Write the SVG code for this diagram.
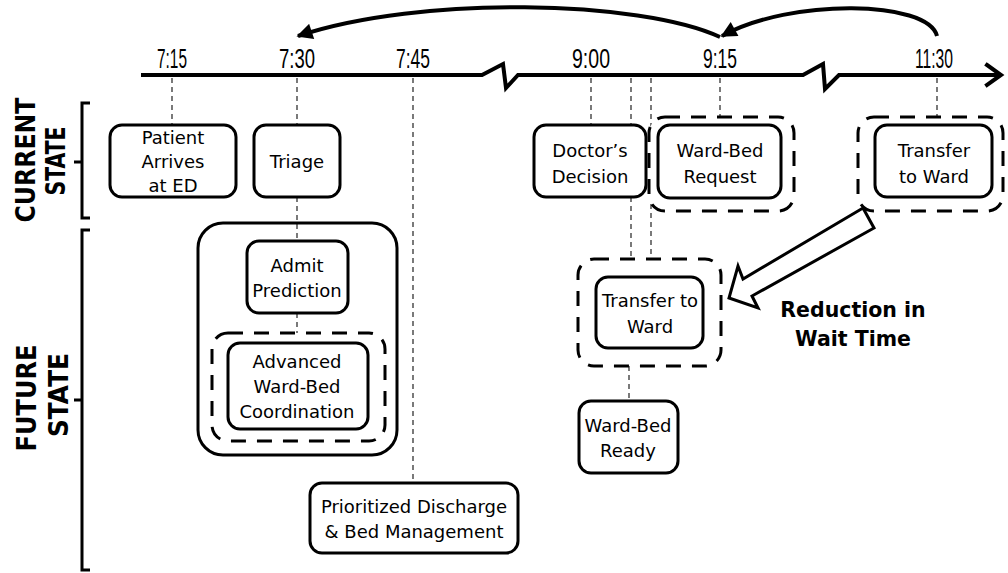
<svg xmlns="http://www.w3.org/2000/svg" width="1008" height="573" viewBox="0 0 1008 573">
<style>
.node rect{fill:#fff;stroke:#000;stroke-width:3}
.node rect.grp{fill:none}
.dbox{fill:none;stroke:#000;stroke-width:4.5;stroke-dasharray:15 11}
.t{font-family:"DejaVu Sans",Verdana,sans-serif;font-size:18px;fill:#000;text-anchor:middle}
.tick{font-family:"Liberation Sans",Arial,sans-serif;font-size:27px;fill:#000;text-anchor:middle}
.side{font-family:"DejaVu Sans",Verdana,sans-serif;font-weight:bold;font-size:26px;fill:#000;text-anchor:middle}
.guide{fill:none;stroke:#333;stroke-width:1.3;stroke-dasharray:5 4}
.axis{fill:none;stroke:#000;stroke-width:4;stroke-linejoin:miter}
.brk{fill:none;stroke:#000;stroke-width:3}
.curve{fill:none;stroke:#000;stroke-width:4}
</style>
<defs>
<marker id="ah" viewBox="0 0 10 10" refX="9" refY="5" markerWidth="4.5" markerHeight="4" orient="auto" markerUnits="strokeWidth">
<path d="M0,0 L10,5 L0,10 Z" fill="#000"/>
</marker>
</defs>

<!-- timeline axis -->
<g id="axis">
<path class="axis" d="M141,75 H482 L503,64 L506,88 L518,75 H803 L823,64 L825,89 L839,75 H1001"/>
<path class="axis" d="M987,65 L1001,75 L987,85" stroke-linecap="square"/>
<text class="tick" x="172" y="68" textLength="30" lengthAdjust="spacingAndGlyphs">7:15</text>
<text class="tick" x="297" y="68" textLength="36" lengthAdjust="spacingAndGlyphs">7:30</text>
<text class="tick" x="413" y="68" textLength="34" lengthAdjust="spacingAndGlyphs">7:45</text>
<text class="tick" x="591" y="68" textLength="38" lengthAdjust="spacingAndGlyphs">9:00</text>
<text class="tick" x="720" y="68" textLength="34" lengthAdjust="spacingAndGlyphs">9:15</text>
<text class="tick" x="934" y="68" textLength="38" lengthAdjust="spacingAndGlyphs">11:30</text>
</g>

<!-- side labels and brackets -->
<g id="current-state-label">
<path class="brk" d="M90,103 H82 V218 H90 M82,162 H74"/>
<text class="side" transform="translate(35,160) rotate(-90)" textLength="125" lengthAdjust="spacingAndGlyphs">CURRENT</text>
<text class="side" transform="translate(65,161) rotate(-90)" textLength="69" lengthAdjust="spacingAndGlyphs">STATE</text>
</g>
<g id="future-state-label">
<path class="brk" d="M90,230 H82 V570 H90 M82,400 H74"/>
<text class="side" transform="translate(36,398) rotate(-90)" textLength="107" lengthAdjust="spacingAndGlyphs">FUTURE</text>
<text class="side" transform="translate(68,395) rotate(-90)" textLength="84" lengthAdjust="spacingAndGlyphs">STATE</text>
</g>

<!-- connectors: guide lines and curved arrows -->
<g id="connectors">
<path class="guide" d="M172,78 V125"/>
<path class="guide" d="M297,78 V125 M297,197 V241 M297,313 V343"/>
<path class="guide" d="M413,78 V483"/>
<path class="guide" d="M591,78 V125"/>
<path class="guide" d="M631,78 V125 M631,197 V277 M629,348 V401"/>
<path class="guide" d="M651,78 V260"/>
<path class="guide" d="M720,78 V125"/>
<path class="guide" d="M937,78 V125"/>
<path class="curve" d="M937,36 C928,0 790,-2 722,36" marker-end="url(#ah)"/>
<path class="curve" d="M720,37 C640,0 420,-5 298,36" marker-end="url(#ah)"/>
</g>

<!-- current state nodes -->
<g id="patient-arrives" class="node">
<rect x="110" y="125" width="126" height="72" rx="12"/>
<text class="t" x="173" y="144">Patient</text>
<text class="t" x="173" y="168">Arrives</text>
<text class="t" x="173" y="192">at ED</text>
</g>
<g id="triage" class="node">
<rect x="254" y="125" width="86" height="72" rx="12"/>
<text class="t" x="297" y="168">Triage</text>
</g>
<g id="doctors-decision" class="node">
<rect x="534" y="125" width="112" height="72" rx="12"/>
<text class="t" x="590" y="157">Doctor’s</text>
<text class="t" x="590" y="183">Decision</text>
</g>
<g id="ward-bed-request" class="node">
<rect class="dbox" x="649" y="117" width="145" height="94" rx="16"/>
<rect x="658" y="125" width="123" height="73" rx="12"/>
<text class="t" x="720" y="157">Ward-Bed</text>
<text class="t" x="720" y="183">Request</text>
</g>
<g id="transfer-current" class="node">
<rect class="dbox" x="858" y="117" width="145" height="94" rx="16"/>
<rect x="875" y="125" width="117" height="72" rx="12"/>
<text class="t" x="934" y="157">Transfer</text>
<text class="t" x="934" y="183">to Ward</text>
</g>

<!-- future state nodes -->
<g id="future-group" class="node">
<rect class="grp" x="198" y="223" width="199" height="232" rx="25"/>
</g>
<g id="admit-prediction" class="node">
<rect x="247" y="241" width="101" height="72" rx="12"/>
<text class="t" x="297" y="272">Admit</text>
<text class="t" x="297" y="297">Prediction</text>
</g>
<g id="advanced-coordination" class="node">
<rect class="dbox" x="212" y="333" width="173" height="108" rx="16"/>
<rect x="228" y="343" width="140" height="86" rx="12"/>
<text class="t" x="297" y="368">Advanced</text>
<text class="t" x="297" y="393">Ward-Bed</text>
<text class="t" x="297" y="418">Coordination</text>
</g>
<g id="prioritized-discharge" class="node">
<rect x="310" y="483" width="208" height="70" rx="12"/>
<text class="t" x="414" y="513">Prioritized Discharge</text>
<text class="t" x="414" y="538">&amp; Bed Management</text>
</g>
<g id="transfer-future" class="node">
<rect class="dbox" x="578" y="259" width="143" height="107" rx="16"/>
<rect x="596" y="277" width="107" height="71" rx="12"/>
<text class="t" x="650" y="307">Transfer to</text>
<text class="t" x="650" y="333">Ward</text>
</g>
<g id="ward-bed-ready" class="node">
<rect x="579" y="401" width="99" height="72" rx="12"/>
<text class="t" x="628" y="432">Ward-Bed</text>
<text class="t" x="628" y="457">Ready</text>
</g>

<g id="reduction">
<polygon points="863,208 874,228 752,296 758,308 729,298 738,266 743,279" fill="#fff" stroke="#000" stroke-width="3" stroke-linejoin="miter"/>
<text x="853" y="317" font-family="DejaVu Sans,Verdana,sans-serif" font-weight="bold" font-size="20.5" text-anchor="middle">Reduction in</text>
<text x="853" y="346" font-family="DejaVu Sans,Verdana,sans-serif" font-weight="bold" font-size="20.5" text-anchor="middle">Wait Time</text>
</g>
</svg>
